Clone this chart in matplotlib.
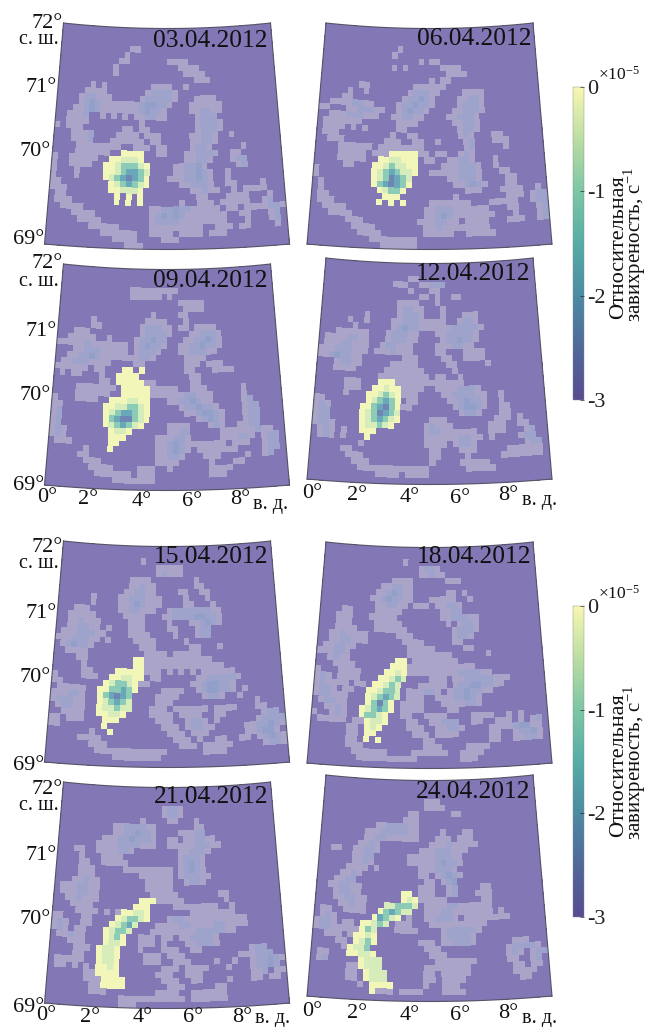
import numpy as np
import matplotlib
matplotlib.use("Agg")
import matplotlib.pyplot as plt
from matplotlib.cm import ScalarMappable
from matplotlib.colors import LinearSegmentedColormap, ListedColormap, Normalize

plt.rcParams["font.family"] = ["Liberation Serif", "DejaVu Serif"]
plt.rcParams["mathtext.default"] = "regular"
plt.rcParams["axes.unicode_minus"] = False

W, H = 645, 1027

# cell levels: . background, a b c weak patches, y g t u v vortex from rim to core
LEVELS = ".abcygtuv"
LEVEL_COLORS = ["#8377B5", "#A9A4C8", "#9DA3CA", "#929FC8",
                "#F2F6B8", "#D6ECBA", "#8CCBB6", "#68A8B8", "#6E86B4"]

DATES = ["03.04.2012", "06.04.2012", "09.04.2012", "12.04.2012",
         "15.04.2012", "18.04.2012", "21.04.2012", "24.04.2012"]

GRID_0304 = [
    "", "", "",
    ".......... ...aa",
    ".......... ..a",
    ".......... .aa....... aaaa",
    ".......... a......... ..aaaa",
    ".......... a......... ...aaaa",
    ".......... .......... .....aaa",
    "......a.a. .......aaa a..a",
    ".....aaaa. ......abbb ba",
    "....abbaaa .....abbbb ba...aaaa",
    "....abcbaa aaaaabccbb a...aaaaaa",
    "...aabcbaa aaaaabcbba ....aabbaa",
    "..aaab..a. a.a.aabbaa .....abbb",
    "..aaaa.... .....a.... .....abbba",
    "a.aaa..... ..aa.aa... .....abbba",
    "...aaab... .aaaa.aaa. ....aabba. .a",
    "...aaab... aaaaaa.aa. ....aabba",
    "....aaaaaa aa..aaa.aa ....abba.. ...a",
    "....aaaaaa ..yyyy..aa ...aabbba. .aa",
    "a..aaaaa.. yygggy.... ...aabba.. .abb",
    "a..aaaa..y ygtttgy... .aabbca... ..ab",
    "a...a....y ygtuutg... .aabbcba.. a",
    "a...a....y gtuvuty... aaabbcba.. a",
    "aa........ ygtutgy... ..aabbba.. aa....a",
    "aaa....... yygggy.... ....aabaa. .a.aaaa",
    ".aa....... .y.y.y.... .....aa... aaaa...a",
    ".aaa...... .y.y.y.... ..a..aaa.a aaaa..ab",
    "..aaaa.... .......aab bcbbaaaaa. aa.aaaabba",
    "....aaaa.. .......abc bcbaaaaaaa ..aa...ab",
    ".....aaaa. .......abb bbaaaaaaaa ...a...ab",
    ".......aaa aa.....aaa aaaaaa..aa a.aa....a",
    ".........a aaaaa..aaa a.aaaa.aaa",
    ".......... .aaaa....a aa",
    ".......... ...aaa",
]

GRID_0604 = [
    "", "", "",
    ".......... ....a",
    ".......... ...a",
    ".......... ........a. aa",
    ".......... ...a.a.... ..aaaa",
    ".......... .......... ...aaaa",
    ".......... .......... a.aa",
    ".......aa. .......aaa aaa",
    ".....a..a. ......abbb aa....aaaa",
    "....aa.... .....abbcb a....aabba",
    "..aaaabbaa ....abbcbb a....abbba",
    "aa...aabbb aa..abcbba ....aabbba",
    "..aaabbbaa a..aabbaa. ...aabbba",
    ".aaaaaaa.. ....aaaa.. ....aabba",
    ".aaaa.a.a. ....aa.... .....abba",
    ".aaa...... ...a..aa.. .....aba.. .aa",
    "..aaa..... ..aaa..aa. .a....ab.. .aaa",
    "....aaaaaa .aaaaaaaa. ......ab.. ...a",
    "....aaaaa. aaayyyyyaa .aa..aba",
    "....aaaaa. .yyggyyy.a a..aabba.. .a",
    ".....aa... yygtggyy.. ..aaabbba. .a",
    "a......... ygtutggy.. aaaaabbba. ..aa",
    "a......... ygtvutg... ...aabbba. ...aa",
    ".a........ ytuvuty... ....aabcba ...aa",
    ".a........ .ygtty.... ......aaa. ..aaaa..a",
    ".aa....... ..yyy..... ....a..... ...aaa.abb",
    ".aaa...... .y.y.y.... aaaaaaa... aaaaa..abb",
    "..aaaa.... .........a abbbaaaaaa ...aa...ab",
    "...aaaa... .........a abcbaaaaaa a...a...ab",
    "......aaa. ........aa abbaa.aaaa ...aaa..ab",
    ".......aaa a........a abaaaaaaaa",
    "........aa aa.......a aaaa..aaaa a",
    ".......... aaaaaaaa",
    ".......... ..aaaaaa",
]

GRID_0904 = [
    "", "", "",
    ".......... ...aaaaaaa aa",
    ".......... ...aaaaaa.a",
    ".......... .......... ..aaaaa",
    ".......... .......... ...aaaa",
    ".......... .......a.. ..aa",
    "......a... ......aaaa ...a",
    "......aa.. .....abbba a.aa.aaaa",
    "...aaa.... .....abbbb a...aabbba",
    "..aaaaa..a ....abbcbb ...aabbcba",
    "aaaaabaaaa aaa.abcbba ..aabbcbba",
    "...aabbbaa aaa.abbba. ..aabbbaa",
    "..aabbcbaa aaaaabba.. ...aaaa",
    ".aabbbaaaa ....aa.... ...aaa.aaa",
    "aaaaaa.aa. ..yy.y.... ...aa...aa aa",
    ".a.aa...a. .yyyy..... ....aa",
    "........aa .yyyyyaa.. ....aa",
    "....aaaaaa a.yyyyyaaa aa..aaa... ...a",
    "....aaaaaa ..yyyyyaaa aaabbaaa.. ...a",
    "a...aaaa.. yyyggyy... aabbcbaa.. ...ab",
    "aa.......y yggttgy... ..abbcbba. ...abb",
    "ab.......y gtuutgy... ...aabccba ...abb",
    "ab.......y tuvvtgy... .....abcba ...abb",
    "ab.......y gtutgy.... aaaa...aba ..aabb",
    "aba....... yggy...... aabb.....a aaaaabaa",
    "aba....... yyy.....aa abba.....a aabba.abb",
    ".aaa...... yy......aa bcbaaaaaaa .aaa..abb",
    "......a... y.......aa bcba.aaaaa aa....abb",
    ".....aa... ........aa bba...aaa. ...a..ab",
    "......aaa. ........aa aa.....a.. .aa",
    ".......aaa a....aaa.. a......aaa a",
    "........aa aaaa.aaa.. .......aaa",
    ".......... .aaaaaaa",
]

GRID_1204 = [
    "", "",
    ".......... ......aa",
    ".......... ...aaa..aa bbb",
    ".......... ......a... aa",
    ".......... ........aa .a..aa",
    ".......... ....aaaa.. .a",
    ".......... ....abbaa. ..a",
    "........a. ....abbba. ..a...aaa",
    ".....a..a. ...aabbbaa aaa..abba",
    "......a... ...abcbbaa aaaabbbbba",
    "...aaaaaa. ..abbbaa.. .aabbbbba",
    ".aaaabbaa. ..abbbaa.. ..abbcbba",
    ".aaabbaaa. .abbaaa... .aaabbaa",
    "aaabbbaaa. aaabaaa... .aa...aaaa",
    "aabcbbaa.. .....aaa.. ..aa..aaaa",
    "...abbaa.. ...aaaaa.. ...aa..... a",
    "...aaaa... ..aaaaaaa. ....a",
    ".......... .aaaaaaaaa .aa..a",
    ".....aaa.. .yyyaaaaaa aaaaaa",
    ".....aaa.. yygyyaaaa. .aaaabbba",
    ".....a...y ygtgyaaa.. ..aabbbbaa ..a",
    "aa.......y gtuty.aa.. ...aabcbba ..a",
    "aba.....yy tuvtyaa... ....abccba ..aa",
    "abb.....yg tvutg..... .....abba. ..aa",
    "abb.....yg tutgy..... aaa....... .aaa.a",
    "abba....yg gtgy.....a baaa...... aaa..aa",
    ".aba.a..yy y........a bbaaaaaa.. aaa...ab",
    ".aba.a...y .........a aaaaabbaa. a....abb",
    "........a. .........a aaa.abba.. ......abb",
    ".....aa... .......... aa...aaa.. ...aaaaaa",
    "......aaa. .......... aa....a... ..aaaaaaa",
    ".......aaa .......... a....aaaaa",
    "........aa aaaaaaaaaa ......aaaa a",
    ".......... .aaaa.aaaa",
]

GRID_1504 = [
    "", "",
    ".......... .....a",
    ".......... ........aa aaa",
    ".......... ........ab aaa",
    ".......... ...aaaa... .....a",
    ".......... ...aabaa.. .....aa",
    ".......... ..aabbaa.. ..aa..aa",
    "......a... .aabbbaaa. ...a...a",
    "......a... .aabcbaaa. ...aa...a",
    "...aaa.... .aabbaaa.. abbbbbbbaa",
    "..aaaaa... ..aaaa...a abbbbccbba",
    "..aabaaa.. ...aaa.... a...aabcba",
    "..aabbaa.a ...aaa.... aa...abb",
    ".aaabbbaa. ...aaaa... .a...abb",
    "aaabbbaa.a ....aaaa.. ...a",
    ".abcbba... .....aaa.. ....aa...a",
    "..aaaa.... ......aaaa .aaaaa",
    "....aa.... ....yyaaaa aaaaaaaa",
    ".....a.... ....yyaaaa aaaaaaaaaa",
    ".....aa... .yyyyyaaa. a.a.a.aaaa aa",
    "a....aaa.. yyggyy.aa. .....aabbb bba",
    "aa.......y gttgyaa... ....aabccb ba",
    ".aaaaa..yy ttuty....a aaa..abccb ba.a",
    "aaabba..yt uvut....aa aa....abba ..a",
    "abbbaa..yg tutg....aa a......... .....a",
    ".abbaa..yg gtgg...aaa .aaaaaa.aa aa...aa",
    "..aaaa..yy ggy....aaa a.aaaa..aa ......abb",
    "aa.aaa...y yy......aa a..abba.a. .....abbbb",
    "aa.......y .........a aa.abbaa.. ...aabbcba",
    ".......a.. y......... aaa.aaa... ...aabcca",
    ".....aaaa. .......... .aaa.a..aa ..aa.abcba",
    ".......aaa .......... ..aaa.aaaa a.....abba",
    "........aa aaaaaaaaaa ......aaaa",
    ".......... .aaaaaaaa",
]

GRID_1804 = [
    "", "",
    ".......... .....a",
    ".......... ........ab ba",
    ".......... ........aa baa",
    ".......... ...aaaa... ...aaa",
    ".......... .aabbaa",
    ".......... aabcbaa... ...aa.a",
    ".........a abcbbaa... aaaaa..a",
    ".......... aabbaa.aaa .aabba",
    "....aa.... aaaaa..... ..aabb",
    "...aaa...a aaaa...... ..aabbbaa",
    "...aaa.... aaaaa..... ...a.abba",
    "...aaaa... aaaaaa.... ....abbba",
    "..aabaaaa. ....aaa... ....abba",
    "..aabbaaa. .....aaaa. ....aa",
    ".aabbaa... ......aaaa a.....aa",
    "aaabba.... ......aaaa aaaa...... a",
    "..abaa.... ....yy.aaa aaaaa",
    "...aaaa... ...yyyaaaa aaaaaaaa",
    "a...aaaa.. ..yygyaaaa aaaaabbbba a",
    "aba.aaaa.. .yygtg.... aaa.aabbbb baaa",
    "abaaaa.aa. yygtg...aa aaa.abbccb baa",
    "abba.aa..y ygttg.aaab ba.abbcbba a",
    "abbaaa...y gtutg.aaa. .aaabbcba",
    ".abbaa...y tvty.aaaa. ..aaaabba",
    "..aaba..yg tuty.aaaa. ...aa",
    "a..aba..yt tgy..aa..a aaa....aaa a..a.a",
    ".aaaaa.aay ggy...aa.. aabbb..aa. .aaa.a.ab",
    "......aa.y gy....aaa. .aabba.... aaaabccaa",
    "......aa.y y......aaa .aaaa..... aa..abbca",
    "......aa.y .y.......a a......... aa..aabba",
    "......aaa. .........a aa....aaaa",
    ".......aaa aaa....aaa aaa..aaaa",
    "........aa aaaaaaaa.. .....aaa",
]

GRID_2104 = [
    "", "", "",
    ".......... .........a bba",
    ".......... .........a bba",
    ".......... .....a.... aa...a",
    ".......... aabbbbaa.. .....aa",
    ".......... aabbcbba.. ..aaabb",
    "........aa abbcbbba.. aa.aabbaa",
    ".......aaa abbbbaaa.. aaaaabbbaa",
    "...aa..aaa abba...... ..aabbba",
    "....a...aa aa........ ..abbba",
    "....aa..aa aaa....... ..abcba",
    "....aaa... ..aaaaaaaa a.abcba",
    "....aaa... .....aaaaa a.abbbaa",
    "...aabaa.. ......aaaa a..abba",
    ".aaabbaa.. ......aaaa a",
    ".aaabbaa.. .......aaa aa.......a a",
    "..aabaaa.. .....yyyaa aaa....... a",
    "...aaaa... ....yyy... .aaaaaaaa. .a",
    "....aaaa.a .ayyggy... ....aaaaaa aa",
    "aa...aa... .ygttgy... abbaaaaaaa aaaa",
    "aba..aa... ygtug...aa aabbaaaabb aaaa",
    "aba.aa...y gttg...aaa aaaaabbbbb aa",
    ".aabaa...y gty..aaa.a a.aabbbba",
    "...aaa...y ggy..aaa.a ...aabbba",
    "....aaa.yg gy...a...a aa..aa.... ....abb",
    "....aa..yg gy....aaa. aaa....... ..aaabbb",
    ".aaaaa..yg gy....aaa. .aaa....a. .a..abbcba",
    ".aa.a.a.yy gy.......a aa.aaaa... a...abbcb",
    "......aayy yy......aa a..aaa.... ....aab.aa",
    "......aaay yyy......a aa..aa.... a...aa.aa",
    ".......aay yyy....... aaa.....aa",
    ".......aaa ........aa aa..aaaaaa",
    ".......... ..aaaaaaaa aaa.aaaaaa",
    ".......... ..aaa",
]

GRID_2404 = [
    "", "", "",
    ".......... .........a aa",
    ".......... .........a aaa",
    ".......... ......aa.. ....aa",
    ".......... .....aaa",
    ".......... aabbbbaa",
    "........aa abbbbbaa.. ..a...aa",
    "........aa bbaaaaaa.. .aaa.aaa",
    ".......aab a......... aaabaaaaa",
    "..aa..aabb a.......aa abbbaaa",
    "......aabb ......aaaa abbbaa",
    "......aaba ......aaaa abcbba",
    ".....aaaa. a.......aa abbba",
    "....aaba.. ........aa .abcba",
    "...aabb... .........a a.abc",
    "..aabbaa.. ........aa a..ab....a a",
    "...abbaa.. .....yy.aa a..ab...aa a",
    "...aabbaa. .....ygyaa aaa......a a",
    "....aabaa. ..ggtttg.a aaabbaaaaa a",
    ".aa..aaaa. .ytutgg..a aabbaaaaaa a.a",
    ".aba...... yutgy.a..a abbba.aaaa aaaa",
    "abba.aa.yy gtg.aaa... aaaaaaaaaa",
    "abbaaaaayt g...aaaa.. ..abbbbba",
    "..aaa.ayyg y......... ..abbbba",
    "....aa.ygt y.......aa a.aabbba.. ....aaa",
    ".....ayggt .........a aa........ ...abbbba",
    ".aa...yygg y......... aaa....... ...aba.abb",
    ".ab.....yg gg........ .aaaaaaa.. ...aa..ab",
    "......aayg gg.......a aaaaaaa... ....aa.aa",
    "......aa.y ggg......a a.aaaaa... ....aaaa",
    "......aa.y ggg......a a.aaaa.... .....aa",
    "........a. yyyy.....a ..aaa",
    ".......... yaaa.aaaa. ..aaaa",
]

GRIDS = [GRID_0304, GRID_0604, GRID_0904, GRID_1204,
         GRID_1504, GRID_1804, GRID_2104, GRID_2404]

# colorbar
CBAR_TICKS = [-3, -2, -1, 0]
CBAR_COLORS = ["#574C91", "#50689A", "#4B8BA3", "#55ADA6",
               "#7CC6A4", "#BBDDA3", "#F7F7B0"]

# panel frames in picture pixels: top-left corner y, centre x
PANEL_TOP = [23, 23, 264, 258, 541, 542, 782, 775]
PANEL_CX = [167, 429.5, 167, 429.5, 167, 429.5, 167, 429.5]
DATE_RIGHT = [268, 531, 268, 530, 268, 531, 268, 530]
DATE_Y = [41, 39, 281, 274, 557, 557, 797, 792]
TOP_HALF, BOTTOM_HALF = 103.5, 122.5
HEIGHT, SAG = 221, 5.5
N_ROWS, N_COLS = 36, 40

LON_MAX = 9.8
LAT_MIN, LAT_MAX = 69, 72


def project(lon, lat, top, cx):
    """Conic looking map: lon, lat to picture pixels for one panel."""
    u = 2 * lon / LON_MAX - 1
    v = (lat - LAT_MIN) / (LAT_MAX - LAT_MIN)
    half = BOTTOM_HALF + (TOP_HALF - BOTTOM_HALF) * v
    return cx + half * u, top + (1 - v) * HEIGHT + SAG * (1 - u ** 2)


def parse_grid(rows):
    out = np.zeros((N_ROWS, N_COLS))
    for i, row in enumerate(rows[:N_ROWS]):
        row = row.replace(" ", "").ljust(N_COLS, ".")
        out[i] = [LEVELS.index(ch) for ch in row[:N_COLS]]
    return out


def fig_text(x, y, s, **kw):
    kw.setdefault("va", "center")
    return fig.text(x / W, 1 - y / H, s, color="#111111", **kw)


fig = plt.figure(figsize=(W / 100, H / 100), dpi=100)
level_cmap = ListedColormap(LEVEL_COLORS)

lon_edges = np.linspace(0, LON_MAX, N_COLS + 1)
lat_edges = np.linspace(LAT_MAX, LAT_MIN, N_ROWS + 1)
lon_mesh, lat_mesh = np.meshgrid(lon_edges, lat_edges)

for k, rows in enumerate(GRIDS):
    top, cx = PANEL_TOP[k], PANEL_CX[k]
    x0, x1 = cx - 130, cx + 130
    y0, y1 = top - 5, top + HEIGHT + 12
    ax = fig.add_axes([x0 / W, 1 - y1 / H, (x1 - x0) / W, (y1 - y0) / H])
    ax.set_xlim(x0, x1)
    ax.set_ylim(y1, y0)
    ax.axis("off")

    X, Y = project(lon_mesh, lat_mesh, top, cx)
    ax.pcolormesh(X, Y, parse_grid(rows), cmap=level_cmap, vmin=-0.5,
                  vmax=len(LEVELS) - 0.5, shading="flat", antialiased=False,
                  linewidth=0)

    # frame
    ax.plot(X[0], Y[0], color="#555566", lw=0.8)
    ax.plot(X[-1], Y[-1], color="#555566", lw=0.8)
    ax.plot(X[:, 0], Y[:, 0], color="#555566", lw=0.8)
    ax.plot(X[:, -1], Y[:, -1], color="#555566", lw=0.8)

    fig_text(DATE_RIGHT[k], DATE_Y[k], DATES[k], ha="right", fontsize=18.4)

# latitude labels
for top, lab_y in [(23, [24, 40, 88, 152, 240]), (264, [264, 281, 331, 396, 486]),
                   (541, [547, 564, 614, 678, 765]), (782, [789, 806, 856, 919, 1007])]:
    fig_text(63, lab_y[0], "72°", ha="right", fontsize=16)
    fig_text(59, lab_y[1], "с. ш.", ha="right", fontsize=14.5)
    fig_text(57, lab_y[2], "71°", ha="right", fontsize=16)
    fig_text(51, lab_y[3], "70°", ha="right", fontsize=16)
    fig_text(44, lab_y[4], "69°", ha="right", fontsize=16)

# longitude labels
LON_LABELS = ["0°", "2°", "4°", "6°", "8°"]
for xs, ys, xd, yd in [([47, 88, 142, 192, 240], [497, 500, 502, 502, 500], 253, 505),
                       ([312, 357, 410, 460, 508], [493, 495, 497, 498, 496], 522, 501),
                       ([46, 90, 143, 193, 242], [1015, 1017, 1018, 1018, 1017], 255, 1019),
                       ([312, 357, 410, 460, 508], [1011, 1013, 1015, 1016, 1014], 522, 1018)]:
    for x, y, s in zip(xs, ys, LON_LABELS):
        fig_text(x, y, s, ha="center", fontsize=16)
    fig_text(xd, yd, "в. д.", ha="left", fontsize=14.5)

# colorbars
cbar_cmap = LinearSegmentedColormap.from_list("vort", CBAR_COLORS)
for y_top, y_bot, lab1, lab2 in [(87, 400, 247, 245), (606, 917, 765, 763)]:
    cax = fig.add_axes([573 / W, 1 - y_bot / H, 11 / W, (y_bot - y_top) / H])
    sm = ScalarMappable(norm=Normalize(-3, 0), cmap=cbar_cmap)
    cb = fig.colorbar(sm, cax=cax, ticks=CBAR_TICKS)
    cb.ax.set_yticklabels([str(t) for t in CBAR_TICKS], fontsize=16)
    cb.ax.tick_params(direction="in", length=3, width=0.5, pad=2, colors="#222222")
    cb.outline.set_linewidth(0.3)
    cb.outline.set_edgecolor("#888888")
    fig_text(598, y_top - 12, "×10$^{-5}$", ha="left", fontsize=12.5)
    fig_text(619, lab1, "Относительная", ha="center", rotation=90, fontsize=16)
    fig_text(635, lab2, "завихреность, с$^{-1}$", ha="center", rotation=90, fontsize=15)

fig.savefig("out.png", dpi=100, facecolor="white")
